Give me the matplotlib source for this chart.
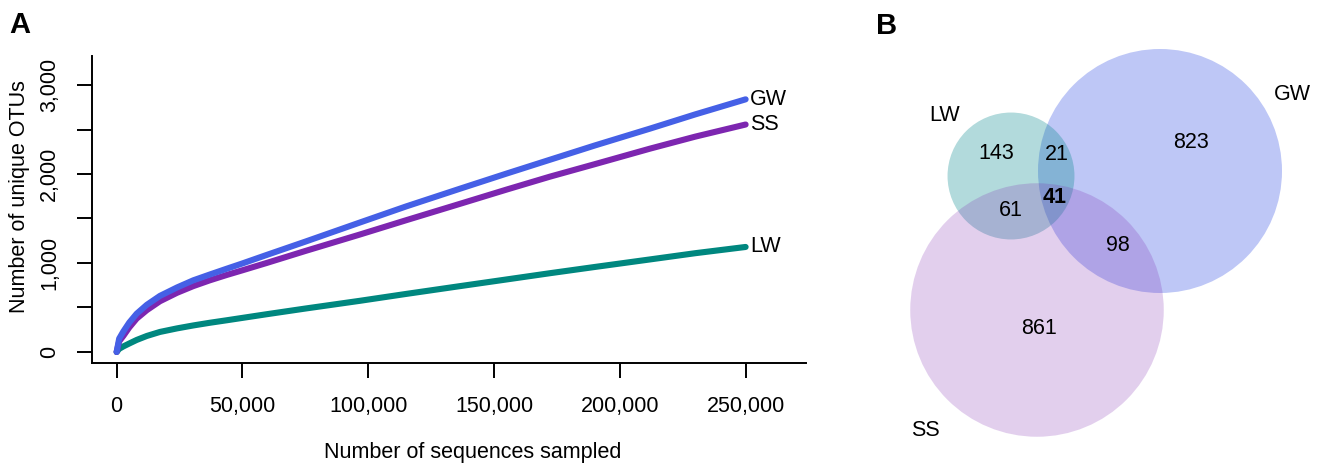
import matplotlib.pyplot as plt
import matplotlib.patches as mpatches
import numpy as np

plt.rcParams['font.family'] = ['Liberation Sans', 'DejaVu Sans']

# Panel A: rarefaction curves
seqs = [0, 1000, 2650, 5000, 7950, 12000, 17200, 24000, 30450, 37000, 43700,
        50000, 59600, 75000, 96700, 115000, 136500, 155000, 172200, 190000,
        212000, 230000, 250000]
otus_gw = [0, 150, 230, 330, 430, 530, 630, 725, 805, 870, 935,
           995, 1090, 1240, 1455, 1635, 1835, 2005, 2160, 2320,
           2510, 2670, 2839]
otus_ss = [0, 120, 180, 275, 375, 470, 570, 665, 740, 805, 865,
           918, 1000, 1135, 1320, 1480, 1665, 1825, 1970, 2110,
           2285, 2420, 2556]
otus_lw = [0, 35, 62, 95, 135, 180, 225, 265, 298, 328, 356,
           383, 424, 488, 575, 652, 740, 815, 885, 955,
           1040, 1110, 1180]

col_gw = '#4560E6'
col_ss = '#7D26B0'
col_lw = '#00877F'

# Panel B: Venn counts
only_lw, only_gw, only_ss = 143, 823, 861
lw_gw, lw_ss, gw_ss, all3 = 21, 61, 98, 41

W, H = 1322, 465
fig = plt.figure(figsize=(W / 100, H / 100), dpi=100)

# ---- A ----
ax = fig.add_axes([92 / W, 1 - 363 / H, (806 - 92) / W, (363 - 56) / H])
for y, c, name in [(otus_lw, col_lw, 'LW'), (otus_ss, col_ss, 'SS'), (otus_gw, col_gw, 'GW')]:
    ax.plot(seqs, y, color=c, lw=4.4, solid_capstyle='round', solid_joinstyle='round')
    ax.annotate(name, (seqs[-1], y[-1]), xytext=(3, 0), textcoords='offset points',
                ha='left', va='center', fontsize=15.5)

ax.set_xlim(-9800, 274000)
ax.set_ylim(-124, 3326)
ax.spines['top'].set_visible(False)
ax.spines['right'].set_visible(False)
for s in ['left', 'bottom']:
    ax.spines[s].set_linewidth(1.4)
ax.set_xticks(np.arange(0, 250001, 50000))
ax.set_xticklabels(['0', '50,000', '100,000', '150,000', '200,000', '250,000'])
ax.set_yticks(np.arange(0, 3001, 500))
ax.set_yticklabels(['0', '', '1,000', '', '2,000', '', '3,000'], rotation=90, va='center')
ax.tick_params(axis='both', length=10.8, width=1.4, labelsize=15.5)
ax.tick_params(axis='x', pad=13)
ax.tick_params(axis='y', pad=12)

fig.text(20 / W, 1 - 197 / H, 'Number of unique OTUs', rotation=90,
         ha='center', va='center', fontsize=15.5)
fig.text(473 / W, 1 - 452 / H, 'Number of sequences sampled',
         ha='center', va='center', fontsize=15.5)
fig.text(20 / W, 1 - 25 / H, 'A', ha='center', va='center', fontsize=21, fontweight='bold')
fig.text(887 / W, 1 - 26 / H, 'B', ha='center', va='center', fontsize=21, fontweight='bold')

# ---- B ----
axb = fig.add_axes([870 / W, 0, (W - 870) / W, 1])
axb.set_xlim(870, W)
axb.set_ylim(H, 0)
axb.axis('off')

tot_lw = only_lw + lw_gw + lw_ss + all3
tot_gw = only_gw + lw_gw + gw_ss + all3
tot_ss = only_ss + lw_ss + gw_ss + all3
k = 122 / np.sqrt(tot_gw)  # pixels per sqrt(count)

circles = [((1160, 171), tot_gw, col_gw, 0.35),
           ((1011, 176), tot_lw, '#00868B', 0.30),
           ((1037, 310), tot_ss, col_ss, 0.22)]
for (cx, cy), tot, c, a in circles:
    axb.add_patch(mpatches.Circle((cx, cy), k * np.sqrt(tot), facecolor=c, alpha=a,
                                  edgecolor='none'))

fs = 15.5
axb.text(945, 115, 'LW', ha='center', va='center', fontsize=fs)
axb.text(1292, 95, 'GW', ha='center', va='center', fontsize=fs)
axb.text(925, 430, 'SS', ha='center', va='center', fontsize=fs)
axb.text(996, 153, str(only_lw), ha='center', va='center', fontsize=fs)
axb.text(1057, 154, str(lw_gw), ha='center', va='center', fontsize=fs)
axb.text(1191, 142, str(only_gw), ha='center', va='center', fontsize=fs)
axb.text(1055, 197, str(all3), ha='center', va='center', fontsize=fs, fontweight='bold')
axb.text(1011, 210, str(lw_ss), ha='center', va='center', fontsize=fs)
axb.text(1118, 245, str(gw_ss), ha='center', va='center', fontsize=fs)
axb.text(1039, 328, str(only_ss), ha='center', va='center', fontsize=fs)

fig.savefig('out.png', dpi=100)
